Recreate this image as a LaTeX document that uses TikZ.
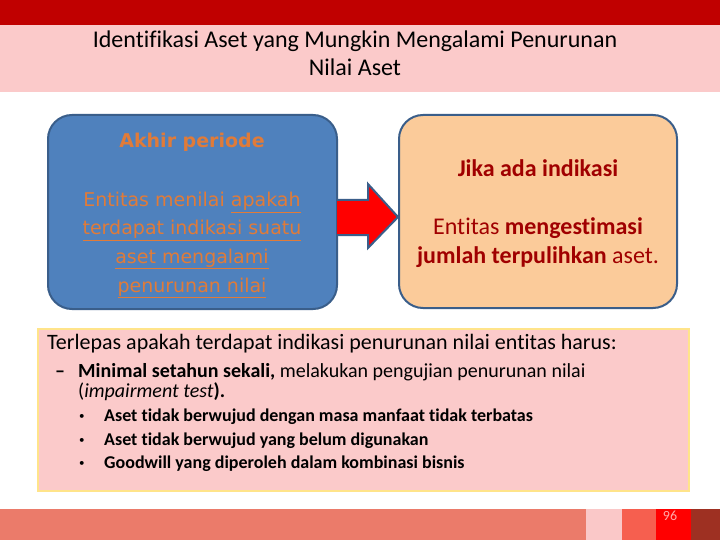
\documentclass[tikz,border=0pt]{standalone}
\usepackage{fontspec}
\setmainfont{Carlito}[Ligatures=NoCommon]
\newfontfamily\leftfont{DejaVu Sans}
\usetikzlibrary{positioning}
\definecolor{topred}{HTML}{C00000}
\definecolor{bandpink}{HTML}{FBCACA}
\definecolor{boxblue}{HTML}{4F81BD}
\definecolor{boxedge}{HTML}{3A5E8A}
\definecolor{peach}{HTML}{FBCB9A}
\definecolor{lefttext}{HTML}{E07B39}
\definecolor{righttext}{HTML}{A00000}
\definecolor{notepink}{HTML}{FBCACA}
\definecolor{noteedge}{HTML}{FFE48A}
\definecolor{footA}{HTML}{EB7B6A}
\definecolor{footB}{HTML}{FAC8C8}
\definecolor{footC}{HTML}{F65F4F}
\definecolor{footD}{HTML}{FF0000}
\definecolor{footE}{HTML}{9E3022}
\definecolor{pagetext}{HTML}{FFA8A8}
\tikzset{
  txt/.style={inner sep=0pt,anchor=base},
  txtw/.style={inner sep=0pt,anchor=base west},
  roundbox/.style={draw=boxedge,line width=2pt,rounded corners=24pt}
}
\begin{document}
\begin{tikzpicture}[x=1pt,y=-1pt]
\useasboundingbox (0,0) rectangle (720,540);
\fill[white] (0,0) rectangle (720,540);
% header
\fill[topred] (0,0) rectangle (720,25);
\fill[bandpink] (0,25) rectangle (720,92);
\begin{scope}[font=\fontsize{24}{28}\selectfont]
    \node[txt] (title1) at (355,48) {Identifikasi Aset yang Mungkin Mengalami Penurunan};
    \node[txt] (title2) at (355,76) {Nilai Aset};
\end{scope}
% two boxes and the arrow
\draw[roundbox,fill=boxblue] (48,115) rectangle (337,309);
\draw[roundbox,fill=peach] (399,115) rectangle (677,308);
\draw[boxedge,line width=2pt,fill=red,line join=miter]
    (337,200)--(368,200)--(368,184)--(398,217)--(368,248)--(368,235)--(337,235);
\begin{scope}[font=\leftfont\fontsize{19}{23}\selectfont,color=lefttext]
    \node[txt] (akhir) at (192,148) {\bfseries Akhir periode};
    \node[txt] (left1) at (192,207) {Entitas menilai \underline{apakah}};
    \node[txt] (left2) at (192,235) {\underline{terdapat indikasi suatu}};
    \node[txt] (left3) at (192,263) {\underline{aset mengalami}};
    \node[txt] (left4) at (192,292) {\underline{penurunan nilai}};
\end{scope}
\begin{scope}[font=\fontsize{24}{28}\selectfont,color=righttext]
    \node[txt] (jika) at (538,177) {\bfseries Jika ada indikasi};
    \node[txt] (right1) at (538,235) {Entitas \textbf{mengestimasi}};
    \node[txt] (right2) at (538,263) {\textbf{jumlah terpulihkan} aset.};
\end{scope}
% note box
\draw[noteedge,line width=1.5pt,fill=notepink] (38,329) rectangle (689,491);
\node[txtw,font=\fontsize{22}{26}\selectfont] (lepas) at (47,349)
    {Terlepas apakah terdapat indikasi penurunan nilai entitas harus:};
\begin{scope}[font=\fontsize{20}{24}\selectfont]
    \node[txtw] (dash) at (55,377) {\textbf{--}};
    \node[txtw] (minimal) at (78,377)
        {\textbf{Minimal setahun sekali,} melakukan pengujian penurunan nilai};
    \node[txtw] (impair) at (78,397) {(\textit{impairment test}\textbf{).}};
\end{scope}
\foreach \y/\name in {421/b1,445/b2,468/b3}
    \node[txtw,font=\fontsize{11}{13}\selectfont] (dot\name) at (79,\y-2) {\textbullet};
\begin{scope}[font=\fontsize{18}{21}\selectfont\bfseries]
    \node[txtw] (b1) at (104,421) {Aset tidak berwujud dengan masa manfaat tidak terbatas};
    \node[txtw] (b2) at (104,445) {Aset tidak berwujud yang belum digunakan};
    \node[txtw] (b3) at (104,468) {Goodwill yang diperoleh dalam kombinasi bisnis};
\end{scope}
% footer
\fill[footA] (0,509) rectangle (586,540);
\fill[footB] (586,509) rectangle (622,540);
\fill[footC] (622,509) rectangle (656,540);
\fill[footD] (656,509) rectangle (691,540);
\fill[footE] (691,509) rectangle (720,540);
\node[txt,font=\fontsize{14}{16}\selectfont,color=pagetext] (page) at (670,520) {96};
\end{tikzpicture}
\end{document}
